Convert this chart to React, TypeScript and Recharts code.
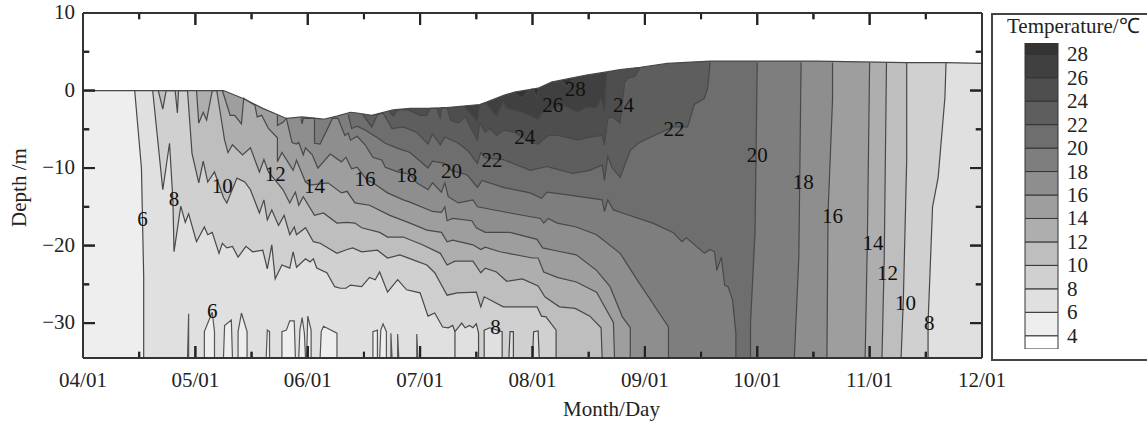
import React from 'react';
import {
  Area,
  Bar,
  BarChart,
  ComposedChart,
  Line,
  ReferenceDot,
  ReferenceLine,
  XAxis,
  YAxis,
} from 'recharts';

// [months since 04/01, depth in m]
type Pt = [number, number];

const BOTTOM = -34.5;
const TOP = 10;

const surface: Pt[] = [[0, 0], [1.25, 0], [1.42, -1.0], [1.6, -2.3], [1.81, -3.6], [1.95, -3.4], [2.14, -3.7], [2.26, -3.3], [2.38, -2.8], [2.44, -2.9], [2.57, -3.2], [2.76, -2.5], [2.91, -2.3], [3.09, -2.3], [3.24, -2.2], [3.53, -1.8], [3.59, -1.5], [3.75, -0.6], [3.84, -0.2], [4.05, 0.3], [4.17, 1.1], [4.31, 1.5], [4.48, 2.0], [4.66, 2.4], [4.78, 2.7], [4.96, 3.0], [5.2, 3.5], [5.58, 3.8], [5.87, 3.8], [6.53, 3.8], [7.33, 3.6], [7.68, 3.6], [8, 3.5]];

const level4: Pt[] = [[0, BOTTOM], [8, BOTTOM]];

const level6: Pt[] = [[0.46, 0], [0.52, -10], [0.53, -17], [0.54, -24], [0.54, BOTTOM], [8, BOTTOM]];

const level8: Pt[] = [[0.62, 0], [0.71, -12.8], [0.77, -6.8], [0.8, -14.1], [0.81, -20.8], [0.87, -14.9], [0.91, -17.0], [0.94, -15.9], [1.01, -19.5], [1.08, -17.6], [1.11, -18.6], [1.15, -18.3], [1.21, -21.0], [1.24, -19.7], [1.28, -20.3], [1.33, -20.1], [1.38, -21.5], [1.45, -20.1], [1.51, -20.8], [1.6, -20.6], [1.64, -23.0], [1.68, -19.9], [1.71, -24.3], [1.77, -22.5], [1.84, -22.9], [1.87, -20.8], [1.9, -22.8], [1.98, -21.7], [2.02, -22.1], [2.05, -21.7], [2.08, -22.9], [2.17, -23.5], [2.24, -25.3], [2.29, -25.5], [2.34, -25.5], [2.38, -25.1], [2.48, -25.3], [2.55, -24.1], [2.6, -24.4], [2.64, -23.4], [2.71, -26.0], [2.8, -24.4], [2.88, -25.7], [3.0, -26.1], [3.07, -29.1], [3.13, -28.7], [3.2, -30.5], [3.25, -30.6], [3.29, -30.3], [3.31, -31.1], [3.31, BOTTOM], [3.31, -31.1], [3.37, -30.0], [3.4, -30.6], [3.44, -30.3], [3.47, -30.6], [3.5, -30.1], [3.52, -31.3], [3.52, BOTTOM], [3.57, BOTTOM], [3.57, -30.9], [3.62, -30.6], [3.73, -31.1], [3.73, BOTTOM], [3.79, BOTTOM], [3.8, -31.1], [3.83, -31.1], [3.83, BOTTOM], [4.0, BOTTOM], [4.01, -31.1], [4.05, -31.0], [4.06, BOTTOM], [7.52, BOTTOM], [7.52, -30.0], [7.56, -15.0], [7.61, -11.2], [7.67, -0.9], [7.68, 3.6]];

const level10: Pt[] = [[0.67, 0], [0.71, -2.4], [0.74, 0], [0.82, 0], [0.84, -2.9], [0.85, 0], [0.93, 0], [0.97, -8.1], [1.03, -11.9], [1.07, -9.1], [1.11, -11.8], [1.17, -10.5], [1.25, -13.8], [1.28, -14.5], [1.37, -11.3], [1.44, -11.8], [1.49, -12.8], [1.57, -15.8], [1.61, -14.1], [1.64, -16.7], [1.68, -15.4], [1.74, -17.4], [1.79, -16.1], [1.84, -18.6], [1.88, -17.6], [1.9, -18.6], [1.98, -17.7], [2.05, -19.5], [2.11, -19.7], [2.26, -21.0], [2.35, -20.5], [2.4, -20.3], [2.48, -20.8], [2.62, -20.6], [2.71, -21.6], [2.82, -21.2], [2.95, -21.9], [3.06, -22.5], [3.13, -23.5], [3.24, -26.4], [3.33, -26.1], [3.5, -26.0], [3.54, -27.9], [3.57, -26.6], [3.74, -27.9], [3.89, -27.9], [4.04, -27.9], [4.08, -29.1], [4.12, -29.2], [4.21, -30.9], [4.21, BOTTOM], [7.28, BOTTOM], [7.3, -27.0], [7.33, -9.0], [7.33, 3.6]];

const level12: Pt[] = [[1.01, 0], [1.03, -4.2], [1.07, -2.8], [1.1, -3.8], [1.15, 0], [1.19, 0], [1.26, -6.4], [1.29, -8.0], [1.33, -7.0], [1.42, -8.3], [1.49, -7.4], [1.57, -10.5], [1.61, -8.9], [1.65, -10.5], [1.73, -11.9], [1.78, -12.8], [1.84, -14.5], [1.89, -13.1], [1.92, -14.8], [1.96, -13.7], [2.06, -16.1], [2.14, -15.8], [2.26, -17.1], [2.35, -17.0], [2.42, -17.1], [2.48, -17.7], [2.64, -18.3], [2.71, -18.9], [2.85, -18.9], [3.02, -19.9], [3.18, -21.0], [3.24, -22.5], [3.31, -22.0], [3.47, -22.0], [3.54, -23.5], [3.58, -22.9], [3.68, -23.4], [3.77, -24.6], [3.91, -24.3], [4.05, -25.2], [4.11, -26.6], [4.24, -27.9], [4.38, -28.1], [4.51, -29.1], [4.61, -30.6], [4.62, BOTTOM], [7.11, BOTTOM], [7.13, -21.6], [7.15, 3.6]];

const level14: Pt[] = [[1.24, 0], [1.31, -3.2], [1.35, -3.2], [1.41, -4.3], [1.43, -1.0], [1.53, -1.9], [1.55, -3.4], [1.59, -3.2], [1.65, -4.9], [1.73, -6.1], [1.73, -9.2], [1.77, -8.0], [1.87, -10.3], [1.9, -9.0], [1.98, -11.8], [2.02, -12.2], [2.18, -11.9], [2.3, -13.2], [2.35, -13.0], [2.42, -14.5], [2.55, -14.8], [2.73, -16.1], [2.91, -17.1], [3.06, -18.0], [3.19, -18.3], [3.24, -19.5], [3.29, -19.3], [3.47, -19.9], [3.54, -20.5], [3.58, -20.2], [3.71, -20.8], [4.0, -21.6], [4.05, -21.6], [4.1, -23.4], [4.22, -24.1], [4.39, -24.7], [4.57, -26.0], [4.72, -29.9], [4.73, BOTTOM], [6.96, BOTTOM], [6.98, -19.3], [7.0, 3.6]];

const level16: Pt[] = [[1.73, -3.2], [1.73, -4.5], [1.78, -4.1], [1.81, -3.6], [1.86, -6.7], [1.9, -6.9], [1.92, -6.7], [1.96, -8.3], [1.98, -7.4], [2.04, -8.3], [2.09, -10.0], [2.2, -8.2], [2.3, -9.2], [2.34, -8.6], [2.39, -10.1], [2.44, -9.9], [2.53, -11.6], [2.58, -11.9], [2.71, -13.2], [2.85, -14.1], [2.91, -14.4], [3.11, -15.6], [3.19, -15.7], [3.22, -15.0], [3.24, -16.8], [3.29, -16.5], [3.46, -16.8], [3.5, -17.7], [3.58, -18.3], [3.8, -18.3], [4.04, -19.2], [4.09, -20.3], [4.22, -20.7], [4.39, -21.2], [4.57, -23.2], [4.69, -25.3], [4.8, -29.2], [4.87, -30.6], [4.87, BOTTOM], [6.62, BOTTOM], [6.63, -15.8], [6.67, -1.2], [6.67, 3.6]];

const level18: Pt[] = [[1.94, -3.6], [1.95, -4.3], [1.96, -3.6], [2.06, -3.6], [2.06, -6.8], [2.11, -6.9], [2.22, -3.6], [2.27, -3.6], [2.33, -5.8], [2.36, -5.5], [2.38, -6.4], [2.44, -5.9], [2.51, -7.0], [2.58, -8.6], [2.66, -9.0], [2.69, -9.9], [2.8, -10.5], [2.91, -10.8], [2.97, -11.9], [3.07, -12.8], [3.11, -11.9], [3.19, -13.1], [3.22, -11.9], [3.25, -13.7], [3.34, -14.5], [3.47, -14.1], [3.51, -15.0], [3.8, -15.8], [4.07, -16.5], [4.1, -17.1], [4.14, -16.5], [4.22, -17.1], [4.39, -17.6], [4.57, -18.6], [4.78, -21.0], [4.93, -24.4], [5.21, -30.5], [5.21, BOTTOM], [6.33, BOTTOM], [6.37, -21.5], [6.39, 3.6]];

const level20: Pt[] = [[2.36, -3.1], [2.39, -4.9], [2.44, -4.6], [2.51, -5.1], [2.62, -6.1], [2.69, -6.8], [2.79, -7.4], [2.91, -8.0], [3.07, -10.0], [3.11, -9.1], [3.22, -9.4], [3.28, -10.3], [3.42, -10.9], [3.51, -12.5], [3.55, -11.6], [3.74, -12.5], [3.98, -13.2], [4.08, -13.9], [4.13, -13.1], [4.33, -13.5], [4.62, -14.1], [4.64, -15.6], [4.67, -14.1], [4.72, -15.4], [4.8, -15.8], [5.07, -17.1], [5.25, -18.3], [5.33, -19.5], [5.37, -19.0], [5.53, -21.0], [5.58, -20.5], [5.62, -20.8], [5.64, -23.2], [5.68, -21.5], [5.71, -25.1], [5.74, -25.3], [5.78, -27.0], [5.81, -31.3], [5.81, BOTTOM], [5.94, BOTTOM], [5.94, -30.0], [5.98, -18.4], [6.0, 3.6]];

const level22: Pt[] = [[2.49, -3.1], [2.57, -4.7], [2.62, -3.1], [2.67, -2.9], [2.75, -4.9], [2.85, -4.7], [2.97, -5.4], [3.07, -6.9], [3.11, -5.6], [3.18, -7.0], [3.22, -6.0], [3.34, -6.8], [3.42, -7.7], [3.51, -9.4], [3.54, -8.0], [3.58, -8.7], [3.74, -8.9], [3.98, -10.3], [4.13, -9.8], [4.18, -10.0], [4.36, -10.7], [4.51, -10.3], [4.62, -9.6], [4.64, -11.6], [4.67, -8.5], [4.71, -10.0], [4.78, -11.2], [4.87, -7.7], [4.94, -6.8], [5.04, -6.1], [5.25, -4.7], [5.38, -4.7], [5.44, -1.8], [5.53, -1.0], [5.56, 0.4], [5.58, 3.6]];

const level24: Pt[] = [[2.73, -2.8], [2.76, -3.3], [2.8, -2.5], [2.89, -2.5], [3.0, -3.2], [3.06, -3.2], [3.09, -2.3], [3.15, -2.3], [3.18, -3.6], [3.19, -2.2], [3.24, -2.2], [3.27, -3.8], [3.34, -4.2], [3.4, -3.4], [3.51, -6.4], [3.53, -4.2], [3.58, -5.4], [3.62, -4.9], [3.68, -5.8], [3.75, -5.1], [3.84, -5.4], [4.0, -6.8], [4.05, -6.9], [4.14, -5.8], [4.23, -5.8], [4.4, -6.4], [4.51, -6.0], [4.62, -5.8], [4.64, -7.0], [4.67, -3.6], [4.71, -3.4], [4.78, -4.2], [4.82, 1.1], [4.85, 1.6], [4.91, 1.8], [4.96, 3.0]];

const level26: Pt[] = [[3.4, -2.2], [3.51, -4.0], [3.53, -1.9], [3.58, -1.6], [3.68, -3.3], [3.74, -1.5], [3.77, -2.3], [3.91, -2.8], [4.05, -3.7], [4.09, -2.8], [4.27, -1.9], [4.4, -2.8], [4.48, -2.2], [4.57, -2.2], [4.61, -1.0], [4.64, -2.8], [4.66, 2.2]];

const level28: Pt[] = [[3.83, -0.3], [3.91, -1.0], [3.95, -0.2], [4.0, 0.2], [4.04, -0.9], [4.06, 0.3], [4.18, 1.1], [4.27, 1.1], [4.31, 0.6], [4.35, 1.3]];

// cold pockets rising off the bottom, below 6 degrees
const pockets6: Pt[] = [[0.93, BOTTOM], [0.94, -28.8], [0.94, BOTTOM], [1.08, BOTTOM], [1.08, -31.1], [1.15, -28.6], [1.17, -31.1], [1.17, BOTTOM], [1.25, BOTTOM], [1.26, -30.3], [1.32, -29.6], [1.33, BOTTOM], [1.38, BOTTOM], [1.38, -31.1], [1.41, -28.7], [1.46, -31.1], [1.46, BOTTOM], [1.63, BOTTOM], [1.64, -30.9], [1.66, -31.1], [1.66, BOTTOM], [1.77, BOTTOM], [1.77, -31.1], [1.81, -30.9], [1.84, -29.7], [1.88, -29.7], [1.89, BOTTOM], [1.92, BOTTOM], [1.93, -30.9], [1.95, -29.3], [1.97, -31.3], [1.98, BOTTOM], [1.99, BOTTOM], [2.0, -29.1], [2.03, -30.9], [2.03, BOTTOM], [2.11, BOTTOM], [2.12, -31.1], [2.14, -30.4], [2.26, -31.3], [2.26, BOTTOM], [2.58, BOTTOM], [2.58, -31.1], [2.62, -30.9], [2.62, BOTTOM], [2.64, BOTTOM], [2.65, -30.9], [2.67, -30.1], [2.7, -31.1], [2.7, BOTTOM], [2.74, BOTTOM], [2.74, -31.3], [2.75, BOTTOM], [2.8, BOTTOM], [2.8, -31.4], [2.81, BOTTOM], [2.97, BOTTOM], [2.97, -31.4], [2.98, BOTTOM]];

const levels: Pt[][] = [level4, level6, level8, level10, level12, level14, level16, level18, level20, level22, level24, level26, level28];
const levelColors = ['#eeeeee', '#e0e0e0', '#d0d0d0', '#bebebe', '#aeaeae', '#9e9e9e', '#8e8e8e', '#7e7e7e', '#6e6e6e', '#5e5e5e', '#4e4e4e', '#404040', '#343434'];

const labelMonths = [0.53, 0.81, 1.24, 1.71, 2.06, 2.51, 2.88, 3.28, 3.64, 3.93, 4.18, 4.38, 4.81, 5.26, 6.0, 6.41, 6.67, 7.03, 7.16, 7.32, 7.53, 1.15, 3.67];
const labelDepths = [-16.5, -13.9, -12.3, -10.7, -12.2, -11.3, -10.9, -10.3, -8.9, -6.0, -1.8, 0.3, -1.8, -4.9, -8.2, -11.7, -16.1, -19.6, -23.5, -27.3, -29.9, -28.4, -30.5];
const labelTexts = ['6', '8', '10', '12', '14', '16', '18', '20', '22', '24', '26', '28', '24', '22', '20', '18', '16', '14', '12', '10', '8', '6', '8'];

const monthTicks = [0, 0.5, 1, 1.5, 2, 2.5, 3, 3.5, 4, 4.5, 5, 5.5, 6, 6.5, 7, 7.5, 8];
const monthLabels = ['04/01', '05/01', '06/01', '07/01', '08/01', '09/01', '10/01', '11/01', '12/01'];
const depthTicks = [-30, -25, -20, -15, -10, -5, 0, 5, 10];

const legendTicks = [4, 6, 8, 10, 12, 14, 16, 18, 20, 22, 24, 26, 28];
const legendSpans = [4, 2, 2, 2, 2, 2, 2, 2, 2, 2, 2, 2, 2, 0.96];
const legendColors = ['#ffffff', ...levelColors];

const FONT = '"Liberation Serif", serif';
const FONT_SIZE = 21;
const INK = '#222222';
const AXIS = '#333333';

const bandRows = (pts: Pt[]) => pts.map(([month, depth]) => ({ month, depth, band: [depth, TOP] }));
const pocketRows = (pts: Pt[]) => pts.map(([month, depth]) => ({ month, depth, band: [BOTTOM, depth] }));

// inward tick marks on all four sides of the frame
const tickSegments: Pt[][] = [
  ...monthTicks.flatMap((m) => {
    const len = Number.isInteger(m) ? 1.55 : 0.8;
    return [
      [[m, BOTTOM], [m, BOTTOM + len]] as Pt[],
      [[m, TOP], [m, TOP - len]] as Pt[],
    ];
  }),
  ...depthTicks.flatMap((d) => {
    const len = d % 10 === 0 ? 0.107 : 0.055;
    return [
      [[0, d], [len, d]] as Pt[],
      [[8 - len, d], [8, d]] as Pt[],
    ];
  }),
];

const legendRow: Record<string, number> = { name: 0 };
legendSpans.forEach((v, i) => {
  legendRow[`s${i}`] = v;
});

const BottomTick = ({ x, y, payload }: any) =>
  Number.isInteger(payload.value) ? (
    <text x={x} y={y + 29} textAnchor="middle" fontSize={FONT_SIZE} fontFamily={FONT} fill={INK}>
      {monthLabels[payload.value]}
    </text>
  ) : (
    <g />
  );

const LeftTick = ({ x, y, payload }: any) =>
  payload.value % 10 === 0 ? (
    <text x={x - 8} y={y + 6} textAnchor="end" fontSize={FONT_SIZE} fontFamily={FONT} fill={INK}>
      {String(payload.value).replace('-', '\u2212')}
    </text>
  ) : (
    <g />
  );

const LegendTick = ({ x, y, payload }: any) => (
  <text x={x} y={y + 7} fontSize={FONT_SIZE} fontFamily={FONT} fill={INK}>
    {payload.value}
  </text>
);

const layer: React.CSSProperties = { position: 'absolute', left: 0, top: 0 };

export default function App() {
  return (
    <div style={{ ...layer, width: 1147, height: 422, overflow: 'hidden', background: '#fff' }}>
      {/* fills and contour lines */}
      <div style={{ ...layer, zIndex: 1 }}>
        <ComposedChart width={1040} height={422} margin={{ top: 13, right: 58, bottom: 64, left: 83 }}>
          <XAxis hide dataKey="month" type="number" domain={[0, 8]} allowDuplicatedCategory />
          <YAxis hide type="number" domain={[BOTTOM, TOP]} />
          {levels.map((pts, i) => (
            <Area
              key={`fill${i}`}
              data={bandRows(pts)}
              dataKey="band"
              stroke="none"
              fill={levelColors[i]}
              fillOpacity={1}
              type="linear"
              dot={false}
              activeDot={false}
              isAnimationActive={false}
            />
          ))}
          <Area data={pocketRows(pockets6)} dataKey="band" stroke="none" fill="#eeeeee" fillOpacity={1} type="linear" dot={false} activeDot={false} isAnimationActive={false} />
          <Area data={bandRows(surface)} dataKey="band" stroke="none" fill="#ffffff" fillOpacity={1} type="linear" dot={false} activeDot={false} isAnimationActive={false} />
          {levels.slice(1).map((pts, i) => (
            <Line key={`line${i}`} data={bandRows(pts)} dataKey="depth" stroke="#484848" strokeWidth={1.2} type="linear" dot={false} activeDot={false} isAnimationActive={false} />
          ))}
          <Line data={pocketRows(pockets6)} dataKey="depth" stroke="#555555" strokeWidth={1.2} type="linear" dot={false} activeDot={false} isAnimationActive={false} />
          <Line data={bandRows(surface)} dataKey="depth" stroke="#484848" strokeWidth={1.2} type="linear" dot={false} activeDot={false} isAnimationActive={false} />
        </ComposedChart>
      </div>

      {/* frame, tick marks, axis text and contour labels */}
      <div style={{ ...layer, zIndex: 2 }}>
        <ComposedChart width={1040} height={422} margin={{ top: 12, right: 57, bottom: 0, left: 0 }}>
          <XAxis
            dataKey="month"
            type="number"
            domain={[0, 8]}
            ticks={monthTicks}
            interval={0}
            height={64}
            tickSize={0}
            tickMargin={0}
            tickLine={false}
            tick={BottomTick}
            axisLine={{ stroke: AXIS, strokeWidth: 2 }}
            allowDuplicatedCategory
            label={{ value: 'Month/Day', position: 'insideBottom', offset: 6, dx: 79, fontSize: FONT_SIZE, fontFamily: FONT, fill: INK }}
          />
          <XAxis xAxisId="top" orientation="top" dataKey="month" type="number" domain={[0, 8]} ticks={monthTicks} interval={0} height={1} tickSize={0} tickMargin={0} tickLine={false} tick={false} axisLine={{ stroke: AXIS, strokeWidth: 2 }} allowDuplicatedCategory />
          <YAxis
            type="number"
            domain={[BOTTOM, TOP]}
            ticks={depthTicks}
            interval={0}
            width={83}
            tickSize={0}
            tickMargin={0}
            tickLine={false}
            tick={LeftTick}
            axisLine={{ stroke: AXIS, strokeWidth: 2 }}
            label={{ value: 'Depth /m', angle: -90, position: 'insideLeft', offset: 19, dy: 2, fontSize: FONT_SIZE, fontFamily: FONT, fill: INK, style: { textAnchor: 'middle' } }}
          />
          <YAxis yAxisId="right" orientation="right" type="number" domain={[BOTTOM, TOP]} ticks={depthTicks} interval={0} width={1} tickSize={0} tickMargin={0} tickLine={false} tick={false} axisLine={{ stroke: AXIS, strokeWidth: 2 }} />
          <Line data={bandRows(surface)} dataKey="depth" stroke="none" dot={false} activeDot={false} isAnimationActive={false} />
          <Line xAxisId="top" yAxisId="right" data={bandRows(surface)} dataKey="depth" stroke="none" dot={false} activeDot={false} isAnimationActive={false} />

          {tickSegments.map((pts, i) => (
            <ReferenceLine
              key={`tick${i}`}
              segment={[{ x: pts[0][0], y: pts[0][1] }, { x: pts[1][0], y: pts[1][1] }]}
              stroke="#222222"
              strokeWidth={2}
              ifOverflow="visible"
            />
          ))}
          {tickSegments.map((pts, i) => (
            <Line key={`tickLine${i}`} data={bandRows(pts)} dataKey="depth" stroke="#222222" strokeWidth={2} type="linear" dot={false} activeDot={false} isAnimationActive={false} />
          ))}

          {labelTexts.map((text, i) => (
            <ReferenceDot
              key={`lab${i}`}
              x={labelMonths[i]}
              y={labelDepths[i]}
              r={0}
              stroke="none"
              fill="none"
              ifOverflow="visible"
              label={{ value: text, position: 'center', fontSize: FONT_SIZE, fontFamily: FONT, fill: '#111' }}
            />
          ))}
        </ComposedChart>
      </div>

      <div style={{ position: 'absolute', zIndex: 3, left: 991, top: 13, width: 170, height: 344, border: '2px solid #444', background: '#fff' }} />
      <div style={{ position: 'absolute', zIndex: 4, left: 1007, top: 14, fontSize: FONT_SIZE, lineHeight: '24px', fontFamily: FONT, color: INK, whiteSpace: 'nowrap' }}>
        Temperature/℃
      </div>
      <div style={{ position: 'absolute', zIndex: 4, left: 1000, top: 0 }}>
        <BarChart width={120} height={422} data={[legendRow]} margin={{ top: 43, right: 0, bottom: 73, left: 25 }} barCategoryGap={0}>
          <XAxis dataKey="name" hide />
          <YAxis orientation="right" type="number" domain={[2.87, 28.96]} ticks={legendTicks} interval={0} width={62} axisLine={false} tickLine={false} tickSize={0} tickMargin={9} tick={LegendTick} allowDataOverflow />
          {legendSpans.map((_, i) => (
            <Bar key={i} dataKey={`s${i}`} stackId="t" fill={legendColors[i]} stroke="#333333" strokeWidth={1} isAnimationActive={false} />
          ))}
        </BarChart>
      </div>
    </div>
  );
}
